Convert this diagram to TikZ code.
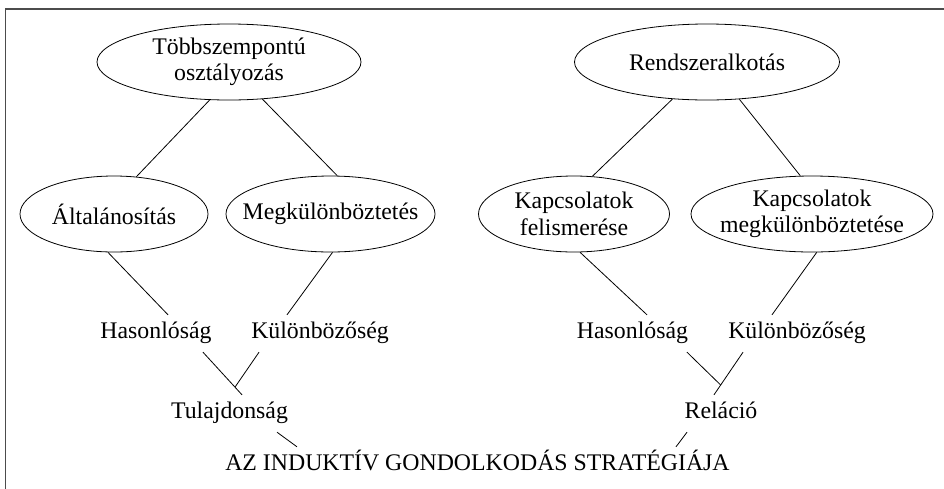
\documentclass[tikz,border=0pt]{standalone}
\usepackage{fontspec}
\setmainfont{Liberation Serif}
\usetikzlibrary{shapes.geometric}
\begin{document}
\begin{tikzpicture}[x=1pt,y=-1pt,
  every node/.style={font=\fontsize{23.8}{26.5}\selectfont},
  oval/.style={ellipse, draw, line width=0.8pt, inner xsep=-14pt, inner ysep=0pt,
               align=center, minimum height=76pt},
  lbl/.style={anchor=base, inner xsep=2pt, inner ysep=6pt, text height=17pt, text depth=8pt},
  link/.style={line width=0.8pt},
  frame/.style={line width=1.5pt, black!70}]

\path[use as bounding box, clip] (0,0) rectangle (944,488);
\draw[frame] (5.5,520) |- (970,9);

% upper level: the two strategies
\node[oval, minimum width=264pt] (T) at (229,62) {Többszempontú\\osztályozás};
\node[oval, minimum width=265pt] (R) at (707,62) {Rendszeralkotás};

% middle level: operations
\node[oval, minimum width=188pt] (A)  at (114,214) {Általánosítás};
\node[oval, minimum width=165pt] (M)  at (330.5,214) {Megkülönböztetés};
\node[oval, minimum width=191pt] (KF) at (574,214) {Kapcsolatok\\felismerése};
\node[oval, minimum width=242pt] (KM) at (812,214) {Kapcsolatok\\megkülönböztetése};

% lower level: plain labels
\node[lbl] (H1) at (156,338)   {Hasonlóság};
\node[lbl] (K1) at (320,338)   {Különbözőség};
\node[lbl] (Tu) at (229.5,418) {Tulajdonság};
\node[lbl] (H2) at (632.5,338) {Hasonlóság};
\node[lbl] (K2) at (797,338)   {Különbözőség};
\node[lbl] (Re) at (721,418)   {Reláció};
\node[lbl] (AZ) at (477.5,470) {AZ INDUKTÍV GONDOLKODÁS STRATÉGIÁJA};

% left tree
\draw[link] (T.243) -- (A.59);
\draw[link] (T.312) -- (M.80);
\draw[link] (A.261) -- ([xshift=12pt]H1.north);
\draw[link] (M.273) -- ([xshift=-33pt]K1.north);
\draw[link] ([xshift=47pt]H1.south) -- coordinate[pos=0.82] (j1) ([xshift=12.5pt]Tu.north);
\draw[link] ([xshift=-61pt]K1.south) -- (j1);
\draw[link] ([xshift=47.5pt]Tu.south) -- ([xshift=-180.5pt]AZ.north);

% right tree
\draw[link] (R.227) -- (KF.64);
\draw[link] (R.311) -- (KM.107);
\draw[link] (KF.279) -- ([xshift=14.5pt]H2.north);
\draw[link] (KM.277) -- ([xshift=-25pt]K2.north);
\draw[link] ([xshift=-54pt]K2.south) -- coordinate[pos=0.77] (j2) ([xshift=-7pt]Re.north);
\draw[link] ([xshift=54.5pt]H2.south) -- (j2);
\draw[link] ([xshift=-34pt]Re.south) -- ([xshift=198.5pt]AZ.north);
\end{tikzpicture}
\end{document}
